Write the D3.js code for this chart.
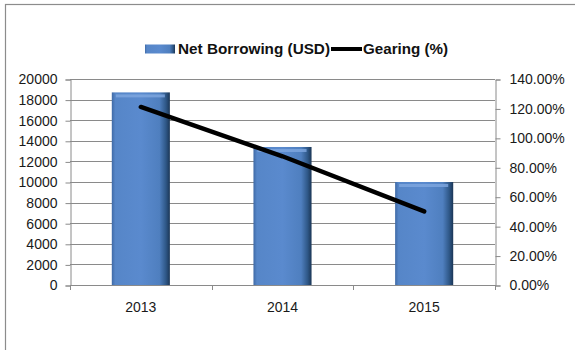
<!DOCTYPE html>
<html><head><meta charset="utf-8">
<script src="https://cdn.jsdelivr.net/npm/d3@7"></script>
<style>body{margin:0;background:#fff}svg{display:block}</style>
</head><body><svg id="c" width="575" height="350"></svg>
<script>
const categories = ["2013", "2014", "2015"];
const netBorrowing = [18700, 13400, 10000];
const gearing = [1.21, 0.875, 0.50];
const leftTicks = [0,2000,4000,6000,8000,10000,12000,14000,16000,18000,20000];
const rightTicks = [0,0.2,0.4,0.6,0.8,1.0,1.2,1.4];
const seriesNames = ["Net Borrowing (USD)", "Gearing (%)"];

const svg = d3.select("#c");
const font = "Liberation Sans, Arial, sans-serif";
const L = 70, R = 495, T = 79, B = 285;

// frame
svg.append("rect").attr("x",5.5).attr("y",4.5).attr("width",600).attr("height",400)
  .attr("fill","#fff").attr("stroke","#8c8c8c").attr("stroke-width",1.2);

const defs = svg.append("defs");
const g1 = defs.append("linearGradient").attr("id","barg").attr("x1","0").attr("x2","1").attr("y1","0").attr("y2","0");
[[0,"#3f6aa6"],[0.06,"#5686c8"],[0.5,"#5a8ace"],[0.82,"#4f7fbf"],[0.93,"#2f5888"],[1,"#1b3656"]]
  .forEach(([o,c])=>g1.append("stop").attr("offset",o).attr("stop-color",c));

const x = d3.scaleBand().domain(categories).range([L,R]).paddingInner(0.59).paddingOuter(0.295);
const xb = d3.scaleBand().domain(categories).range([L,R]);
const yL = d3.scaleLinear().domain([0,20000]).range([B,T]);
const yR = d3.scaleLinear().domain([0,1.4]).range([B,T]);

// gridlines
svg.append("g").selectAll("line").data(leftTicks).join("line")
  .attr("x1",L).attr("x2",R).attr("y1",d=>Math.round(yL(d))+0.5).attr("y2",d=>Math.round(yL(d))+0.5)
  .attr("stroke","#8a8a8a").attr("stroke-width",1);

// left axis
const axL = svg.append("g").attr("transform",`translate(${L+0.5},0.5)`)
  .call(d3.axisLeft(yL).tickValues(leftTicks).tickSize(5).tickPadding(8).tickFormat(d3.format("d")));
// right axis
const axR = svg.append("g").attr("transform",`translate(${R+0.5},0.5)`)
  .call(d3.axisRight(yR).tickValues(rightTicks).tickSize(5).tickPadding(9).tickFormat(d3.format(".2%")));
// bottom axis
const axB = svg.append("g").attr("transform",`translate(0,${B+0.5})`)
  .call(d3.axisBottom(xb).tickSize(0).tickPadding(16.5));
svg.append("g").selectAll("line").data(categories.concat(["_end"])).join("line")
  .attr("x1",(d,i)=>Math.round(L+i*xb.bandwidth())+0.5).attr("x2",(d,i)=>Math.round(L+i*xb.bandwidth())+0.5)
  .attr("y1",B).attr("y2",B+5).attr("stroke","#8a8a8a");

[axL,axR,axB].forEach(a=>{
  a.selectAll(".domain").attr("stroke","#8a8a8a");
  a.selectAll(".tick line").attr("stroke","#8a8a8a");
  a.selectAll("text").attr("font-family",font).attr("font-size",14).attr("fill","#1a1a1a");
});
axB.select(".domain").attr("d",`M${L},0H${R}`);

// bars
const bars = svg.append("g");
bars.selectAll("rect.b").data(netBorrowing).join("rect").attr("class","b")
  .attr("x",(d,i)=>x(categories[i])).attr("width",x.bandwidth())
  .attr("y",d=>yL(d)).attr("height",d=>B-yL(d)).attr("fill","url(#barg)");
bars.selectAll("rect.h").data(netBorrowing).join("rect").attr("class","h")
  .attr("x",(d,i)=>x(categories[i])+4).attr("width",x.bandwidth()-9)
  .attr("y",d=>yL(d)+2).attr("height",3).attr("fill","#7fa8e0").attr("opacity",0.8);

// line
svg.append("path").datum(gearing)
  .attr("d",d3.line().x((d,i)=>xb(categories[i])+xb.bandwidth()/2).y(d=>yR(d)))
  .attr("fill","none").attr("stroke","#000").attr("stroke-width",4.5).attr("stroke-linecap","round");

// legend
const lg = svg.append("g");
lg.append("rect").attr("x",145).attr("y",44.5).attr("width",30).attr("height",9).attr("fill","url(#barg)");
lg.append("text").attr("x",178).attr("y",54).text(seriesNames[0])
  .attr("font-family",font).attr("font-weight","bold").attr("font-size",14.5).attr("fill","#111")
  .attr("textLength",152).attr("lengthAdjust","spacingAndGlyphs");
lg.append("line").attr("x1",331).attr("x2",362).attr("y1",49).attr("y2",49).attr("stroke","#000").attr("stroke-width",4);
lg.append("text").attr("x",363).attr("y",54).text(seriesNames[1])
  .attr("font-family",font).attr("font-weight","bold").attr("font-size",14.5).attr("fill","#111")
  .attr("textLength",85).attr("lengthAdjust","spacingAndGlyphs");
</script></body></html>
